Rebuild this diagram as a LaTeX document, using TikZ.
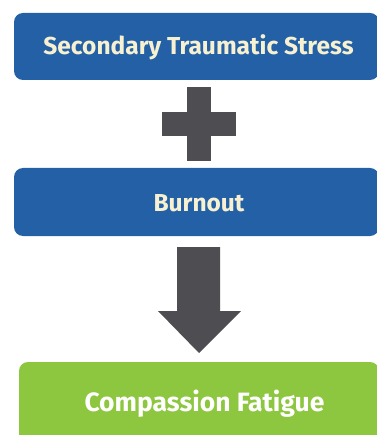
\documentclass[tikz,border=0pt]{standalone}
\usepackage{fontspec}
\setmainfont{Fira Sans}
\definecolor{boxblue}{HTML}{2360A5}
\definecolor{boxgreen}{HTML}{8DC63F}
\definecolor{textcream}{HTML}{F7F1D2}
\definecolor{symgray}{HTML}{4E4E52}
\begin{document}
\begin{tikzpicture}[x=1pt,y=-1pt,
  bluebox/.style={fill=boxblue,rounded corners=9pt},
  greenbox/.style={fill=boxgreen,rounded corners=9pt},
  lbl/.style={font=\fontsize{24.5}{28}\selectfont\bfseries,text=textcream},
  sym/.style={fill=symgray}]
\useasboundingbox (0,0) rectangle (376,435);
\fill[white] (0,0) rectangle (376,435);
% boxes
\path[bluebox] (14,13) rectangle (379,80);
\node[lbl] (sts) at (198.5,47.5) {Secondary Traumatic Stress};
\path[bluebox] (14,168) rectangle (379,236);
\node[lbl] (bo) at (199,203) {Burnout};
\path[greenbox] (19,362) rectangle (379,445);
\node[lbl,text=white,font=\fontsize{26.5}{30}\selectfont\bfseries] (cf) at (204.5,404) {Compassion Fatigue};
% plus
\path[sym] (187,87) rectangle (211,161);
\path[sym] (162,112) rectangle (236,136);
% arrow
\path[sym] (177,247) -- (220,247) -- (220,311) -- (241,311) -- (199,353) -- (158,311) -- (177,311) -- cycle;
\end{tikzpicture}
\end{document}
